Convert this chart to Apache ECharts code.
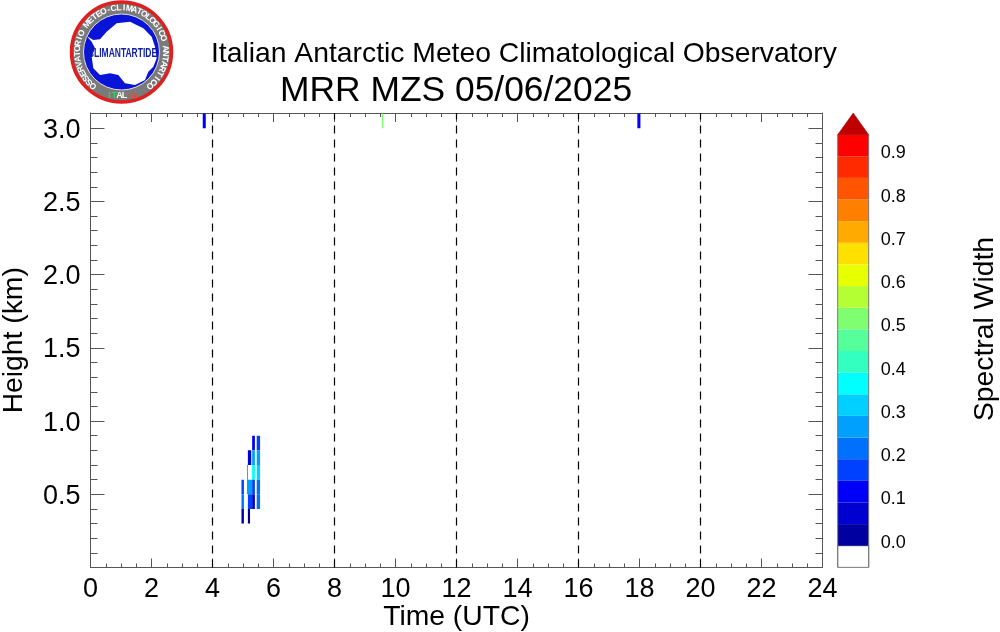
<!DOCTYPE html>
<html>
<head>
<meta charset="utf-8">
<title>MRR MZS 05/06/2025</title>
<script src="https://cdn.jsdelivr.net/npm/echarts@6/dist/echarts.min.js"></script>
<style>
html, body { margin: 0; padding: 0; background: #fff; }
#chartWrapper { width: 1000px; height: 632px; }
</style>
</head>
<body>
<div id="chartWrapper"></div>
<script>
// radar cells: time span (UTC hours), height span (km), spectral width
const cellStart = [3.68, 9.55, 17.93,
    4.95, 4.95, 4.95,
    5.16, 5.13, 5.13, 5.16, 5.16,
    5.30, 5.30, 5.30, 5.30, 5.30,
    5.45, 5.45, 5.45, 5.45, 5.45];
const cellEnd = [3.78, 9.60, 18.03,
    5.03, 5.03, 5.03,
    5.27, 5.16, 5.30, 5.30, 5.23,
    5.39, 5.39, 5.39, 5.39, 5.39,
    5.56, 5.56, 5.56, 5.56, 5.56];
const cellLow = [3.0, 3.0, 3.0,
    0.5, 0.4, 0.3,
    0.7, 0.6, 0.5, 0.4, 0.3,
    0.8, 0.7, 0.6, 0.5, 0.4,
    0.8, 0.7, 0.6, 0.5, 0.4];
const cellValue = [0.12, 0.52, 0.12,
    0.17, 0.22, 0.03,
    0.07, 0.27, 0.27, 0.17, 0.03,
    0.12, 0.27, 0.37, 0.17, 0.07,
    0.17, 0.27, 0.32, 0.22, 0.22];
const cellDepth = 0.1;

const dashedHours = [4, 8, 12, 16, 20];

// colour bar, lowest band first, one band per 0.05
const bandStep = 0.05;
const bandColors = ['#0000a0', '#0000d0', '#0000f8', '#0040ff', '#0070ff', '#00a0ff', '#00d0ff', '#00ffff',
    '#33ffc0', '#55ff99', '#7fff70', '#b4ff33', '#e8ff00', '#ffe000', '#ffaa00', '#ff8000',
    '#ff5500', '#ff2a00', '#ff0000'];
const barTicks = [0, 0.1, 0.2, 0.3, 0.4, 0.5, 0.6, 0.7, 0.8, 0.9];

const fontName = '"Liberation Sans", Arial, sans-serif';

function colorOf(v) {
    return bandColors[Math.min(Math.floor(v / bandStep), bandColors.length - 1)];
}

function renderCell(params, api) {
    let a = api.coord([api.value(0), api.value(2)]);
    let b = api.coord([api.value(1), api.value(3)]);
    return {
        type: 'rect',
        shape: { x: a[0], y: b[1], width: b[0] - a[0], height: a[1] - b[1] },
        style: { fill: colorOf(cellValue[params.dataIndex]) }
    };
}

function renderBand(params, api) {
    let a = api.coord([0, api.value(0)]);
    let b = api.coord([1, api.value(1)]);
    let n = bandColors.length;
    let i = params.dataIndex - 1;
    if (i === n) {
        // the over-range arrow
        return {
            type: 'polygon',
            shape: { points: [[a[0], a[1]], [b[0], a[1]], [(a[0] + b[0]) / 2, b[1]]] },
            style: { fill: '#c00000', stroke: '#8a0000', lineWidth: 0.5 }
        };
    }
    let side = { stroke: '#777777', lineWidth: 1 };
    return {
        type: 'group',
        children: [
            {
                type: 'rect',
                shape: { x: a[0], y: b[1], width: b[0] - a[0], height: a[1] - b[1] },
                style: i < 0 ? { fill: '#ffffff', stroke: '#777777', lineWidth: 1 } : { fill: bandColors[i] }
            },
            { type: 'line', shape: { x1: a[0], y1: a[1], x2: a[0], y2: b[1] }, style: side },
            { type: 'line', shape: { x1: b[0], y1: a[1], x2: b[0], y2: b[1] }, style: side }
        ]
    };
}

// logo, drawn around its centre
const logoX = 121.5;
const logoY = 52;
const logoRing = 'OSSERVATORIO METEO-CLIMATOLOGICO ANTARTICO';
const logoLand = [[80, 108], [100, 120], [120, 118], [140, 95], [170, 70], [210, 65], [250, 85], [275, 110],
    [285, 140], [290, 175], [280, 200], [265, 215], [255, 240], [225, 255], [195, 250], [175, 225], [150, 220],
    [120, 225], [100, 205], [95, 170], [105, 145], [95, 125]];

function logoGraphics() {
    let items = [
        { type: 'circle', shape: { cx: logoX, cy: logoY, r: 50 }, style: { fill: '#7a7a7a', stroke: '#e02020', lineWidth: 3.5 } },
        { type: 'circle', shape: { cx: logoX, cy: logoY, r: 38 }, style: { fill: '#0a14d8', stroke: '#dddddd', lineWidth: 1 } },
        {
            type: 'polygon',
            shape: { points: logoLand.map(function (p) { return [60 + p[0] / 3, p[1] / 3]; }) },
            style: { fill: '#ffffff' }
        },
        {
            type: 'text', x: logoX + 1, y: logoY + 1, scaleY: 1.6,
            style: { text: 'CLIMANTARTIDE', align: 'center', verticalAlign: 'middle', font: 'bold 8.5px ' + fontName, fill: '#1020a0' }
        }
    ];
    let n = logoRing.length;
    for (let i = 0; i < n; i++) {
        let deg = -140 + 280 * i / (n - 1);
        let rad = deg * Math.PI / 180;
        items.push({
            type: 'text',
            x: logoX + 44 * Math.sin(rad),
            y: logoY - 44 * Math.cos(rad),
            rotation: -rad,
            style: { text: logoRing[i], align: 'center', verticalAlign: 'middle', font: 'bold 8.5px ' + fontName, fill: '#ffffff' }
        });
    }
    let flag = ['#38d058', '#38d058', '#ffffff', '#ffffff', '#ff4030', '#ff4030'];
    'ITALIA'.split('').forEach(function (c, i) {
        items.push({
            type: 'text', x: logoX - 12 + i * 5, y: logoY + 44,
            style: { text: c, align: 'center', verticalAlign: 'middle', font: 'bold 9px ' + fontName, fill: flag[i] }
        });
    });
    return items;
}

let cellData = cellStart.map(function (s, i) {
    return [s, cellEnd[i], cellLow[i], cellLow[i] + cellDepth];
});

let bandData = [[-bandStep, 0]];
bandColors.forEach(function (c, i) {
    bandData.push([i * bandStep, (i + 1) * bandStep]);
});
bandData.push([bandColors.length * bandStep, 1.0]);

let axisGrey = '#555555';
let myChart = echarts.init(document.getElementById('chartWrapper'), null, { renderer: 'canvas' });

let option = {
    backgroundColor: '#ffffff',
    animation: false,
    textStyle: { fontFamily: fontName },
    title: [
        { text: 'Italian Antarctic Meteo Climatological Observatory', left: 211, top: 40, padding: 0, textStyle: { fontSize: 28.3, fontWeight: 'normal', color: '#000', fontFamily: fontName } },
        { text: 'MRR MZS 05/06/2025', left: 280, top: 74, padding: 0, textStyle: { fontSize: 35.4, fontWeight: 'normal', color: '#000', fontFamily: fontName } }
    ],
    grid: [
        { left: 90.5, width: 732, top: 113, height: 454.5, outerBoundsMode: 'none' },
        { left: 837.7, width: 31, top: 113, height: 476, outerBoundsMode: 'none' }
    ],
    xAxis: [
        {
            type: 'value', min: 0, max: 24, interval: 2, position: 'bottom', gridIndex: 0,
            name: 'Time (UTC)', nameLocation: 'middle', nameGap: 36, nameMoveOverlap: false,
            nameTextStyle: { fontSize: 28.3, color: '#000', fontFamily: fontName },
            axisLine: { show: true, onZero: false, lineStyle: { color: axisGrey } },
            axisTick: { show: true, inside: true, length: 9, lineStyle: { color: axisGrey } },
            minorTick: { show: true, splitNumber: 4, length: 4, lineStyle: { color: axisGrey } },
            axisLabel: { fontSize: 27, color: '#000', margin: 9, hideOverlap: false },
            splitLine: { show: false }
        },
        {
            type: 'value', min: 0, max: 24, interval: 2, position: 'top', gridIndex: 0,
            axisLine: { show: true, onZero: false, lineStyle: { color: axisGrey } },
            axisTick: { show: true, inside: true, length: 9, lineStyle: { color: axisGrey } },
            minorTick: { show: true, splitNumber: 4, length: 4, lineStyle: { color: axisGrey } },
            axisLabel: { show: false },
            splitLine: { show: false }
        },
        { type: 'value', min: 0, max: 1, gridIndex: 1, show: false, splitLine: { show: false } }
    ],
    yAxis: [
        {
            type: 'value', min: 0, max: 3.104, interval: 0.5, position: 'left', gridIndex: 0,
            name: 'Height (km)', nameLocation: 'middle', nameGap: 62, nameMoveOverlap: false,
            nameTextStyle: { fontSize: 28.3, color: '#000', fontFamily: fontName },
            axisLine: { show: true, onZero: false, lineStyle: { color: axisGrey } },
            axisTick: { show: true, inside: true, length: 14, lineStyle: { color: axisGrey } },
            minorTick: { show: true, splitNumber: 5, length: 7, lineStyle: { color: axisGrey } },
            axisLabel: {
                fontSize: 27, color: '#000', margin: 10, verticalAlign: 'top', lineHeight: 4, showMinLabel: false, showMaxLabel: false,
                formatter: function (v) { return v.toFixed(1); }
            },
            splitLine: { show: false }
        },
        {
            type: 'value', min: 0, max: 3.104, interval: 0.5, position: 'right', gridIndex: 0,
            axisLine: { show: true, onZero: false, lineStyle: { color: axisGrey } },
            axisTick: { show: true, inside: true, length: 14, lineStyle: { color: axisGrey } },
            minorTick: { show: true, splitNumber: 5, length: 7, lineStyle: { color: axisGrey } },
            axisLabel: { show: false },
            splitLine: { show: false }
        },
        {
            type: 'value', min: -0.1, max: 1.0, interval: 0.1, position: 'right', gridIndex: 1,
            axisLine: { show: false },
            axisTick: { show: false },
            axisLabel: {
                fontSize: 18, color: '#000', margin: 12, verticalAlign: 'bottom', lineHeight: 6,
                customValues: barTicks,
                formatter: function (v) { return v.toFixed(1); }
            },
            splitLine: { show: false }
        }
    ],
    graphic: logoGraphics().concat([
        {
            type: 'text', x: 985, y: 329, rotation: Math.PI / 2,
            style: { text: 'Spectral Width', align: 'center', verticalAlign: 'middle', font: '28.3px ' + fontName, fill: '#000' }
        }
    ]),
    series: [
        {
            type: 'custom',
            xAxisIndex: 0,
            yAxisIndex: 0,
            clip: true,
            encode: { x: [0, 1], y: [2, 3] },
            data: cellData,
            renderItem: renderCell,
            markLine: {
                silent: true,
                symbol: 'none',
                label: { show: false },
                lineStyle: { color: '#000', type: [8, 6], width: 1.2 },
                data: dashedHours.map(function (h) { return { xAxis: h }; })
            }
        },
        {
            type: 'custom',
            xAxisIndex: 2,
            yAxisIndex: 2,
            clip: false,
            encode: { y: [0, 1] },
            data: bandData,
            renderItem: renderBand
        }
    ]
};

myChart.setOption(option);
</script>
</body>
</html>
